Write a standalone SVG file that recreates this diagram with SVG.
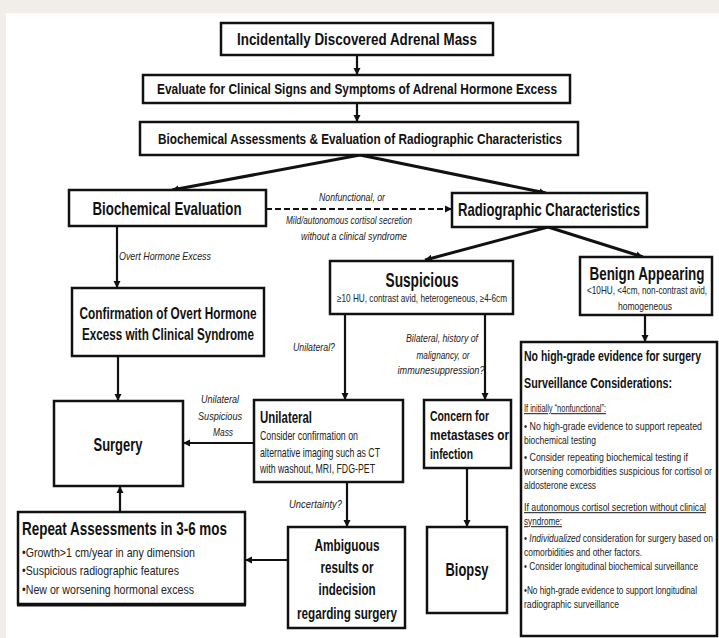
<svg xmlns="http://www.w3.org/2000/svg" width="719" height="638" viewBox="0 0 719 638">
<style>
.box{fill:#fff;stroke:#111;stroke-width:2.5}
.b{font-family:"Liberation Sans",Arial,sans-serif;font-weight:bold;fill:#111}
.r{font-family:"Liberation Sans",Arial,sans-serif;fill:#222}
.i{font-family:"Liberation Sans",Arial,sans-serif;font-style:italic;fill:#222}
.c{text-anchor:middle}
.ln{stroke:#111;stroke-width:2.2;fill:none;marker-end:url(#ah)}
.thick{stroke-width:3}
.dash{stroke-dasharray:6 3}
.u{text-decoration:underline}
</style>
<defs>
<marker id="ah" markerUnits="userSpaceOnUse" markerWidth="8" markerHeight="8" refX="7" refY="4" orient="auto">
<path d="M0,0.5 L7,4 L0,7.5 z" fill="#111"/>
</marker>
</defs>
<rect x="0" y="0" width="719" height="638" fill="#f1ede9"/>
<rect x="6" y="13" width="713" height="625" fill="#fff"/>

<g id="connectors">
<path class="ln" d="M357,55 V75"/>
<path class="ln" d="M357,103 V122"/>
<path class="ln thick" d="M360,155 L172,190"/>
<path class="ln thick" d="M360,155 L546,193"/>
<path class="ln dash" d="M266,209 H452"/>
<path class="ln" d="M117,226 V288"/>
<path class="ln" d="M118,356 V401"/>
<path class="ln thick" d="M548,227 L425,260"/>
<path class="ln thick" d="M548,227 L643,257"/>
<path class="ln" d="M345,314 V400"/>
<path class="ln" d="M485,314 V400"/>
<path class="ln" d="M645,315 V342"/>
<path class="ln" d="M254,443 H183"/>
<path class="ln" d="M347,482 V527"/>
<path class="ln" d="M467,468 V527"/>
<path class="ln" d="M288,560 H245"/>
<path class="ln" d="M120,512 V486"/>
<text class="i c" transform="translate(352,201) scale(0.72,1)" font-size="10" textLength="91.7" lengthAdjust="spacingAndGlyphs">Nonfunctional, or</text>
<text class="i c" transform="translate(349,224) scale(0.72,1)" font-size="10" textLength="175" lengthAdjust="spacingAndGlyphs">Mild/autonomous cortisol secretion</text>
<text class="i c" transform="translate(354,240) scale(0.72,1)" font-size="10" textLength="147.2" lengthAdjust="spacingAndGlyphs">without  a clinical syndrome</text>
<text class="i" transform="translate(119,260) scale(0.72,1)" font-size="10" textLength="127.8" lengthAdjust="spacingAndGlyphs">Overt Hormone Excess</text>
<text class="i" transform="translate(293,351) scale(0.72,1)" font-size="10" textLength="58.3" lengthAdjust="spacingAndGlyphs">Unilateral?</text>
<text class="i c" transform="translate(442,342) scale(0.72,1)" font-size="10.5" textLength="100" lengthAdjust="spacingAndGlyphs">Bilateral, history of</text>
<text class="i c" transform="translate(443,359) scale(0.72,1)" font-size="10.5" textLength="73.6" lengthAdjust="spacingAndGlyphs">malignancy, or</text>
<text class="i c" transform="translate(441,374) scale(0.72,1)" font-size="10.5" textLength="120.8" lengthAdjust="spacingAndGlyphs">immunesuppression?</text>
<text class="i c" transform="translate(220,403) scale(0.72,1)" font-size="10" textLength="52.8" lengthAdjust="spacingAndGlyphs">Unilateral</text>
<text class="i c" transform="translate(220,420) scale(0.72,1)" font-size="10" textLength="61.1" lengthAdjust="spacingAndGlyphs">Suspicious</text>
<text class="i c" transform="translate(223,436) scale(0.72,1)" font-size="10" textLength="27.8" lengthAdjust="spacingAndGlyphs">Mass</text>
<text class="i" transform="translate(289,508) scale(0.72,1)" font-size="10" textLength="73.6" lengthAdjust="spacingAndGlyphs">Uncertainty?</text>
</g>

<g id="n-incidental">
<rect class="box" x="221" y="23" width="272" height="32"/>
<text class="b c" transform="translate(357,45) scale(0.72,1)" font-size="16" textLength="333.3" lengthAdjust="spacingAndGlyphs">Incidentally Discovered Adrenal Mass</text>
</g>
<g id="n-evaluate">
<rect class="box" x="143" y="75" width="427" height="28"/>
<text class="b c" transform="translate(357,94) scale(0.72,1)" font-size="14" textLength="555.6" lengthAdjust="spacingAndGlyphs">Evaluate for Clinical  Signs and Symptoms of Adrenal Hormone Excess</text>
</g>
<g id="n-assess">
<rect class="box" x="140" y="122" width="438" height="33"/>
<text class="b c" transform="translate(360,144) scale(0.72,1)" font-size="14" textLength="561.1" lengthAdjust="spacingAndGlyphs">Biochemical Assessments &amp; Evaluation of Radiographic Characteristics</text>
</g>
<g id="n-biochem">
<rect class="box" x="69" y="190" width="197" height="36"/>
<text class="b c" transform="translate(167,215) scale(0.72,1)" font-size="18" textLength="206.9" lengthAdjust="spacingAndGlyphs">Biochemical Evaluation</text>
</g>
<g id="n-radio">
<rect class="box" x="452" y="193" width="195" height="34"/>
<text class="b c" transform="translate(549,216) scale(0.72,1)" font-size="18" textLength="252.8" lengthAdjust="spacingAndGlyphs">Radiographic Characteristics</text>
</g>
<g id="n-confirm">
<rect class="box" x="72" y="288" width="192" height="68"/>
<text class="b c" transform="translate(168,319) scale(0.72,1)" font-size="16" textLength="245.8" lengthAdjust="spacingAndGlyphs">Confirmation  of Overt Hormone</text>
<text class="b c" transform="translate(168,340) scale(0.72,1)" font-size="16" textLength="238.9" lengthAdjust="spacingAndGlyphs">Excess with  Clinical  Syndrome</text>
</g>
<g id="n-suspicious">
<rect class="box" x="330" y="261" width="183" height="53"/>
<text class="b c" transform="translate(422,287) scale(0.72,1)" font-size="21" textLength="101.4" lengthAdjust="spacingAndGlyphs">Suspicious</text>
<text class="r c" transform="translate(422,302) scale(0.72,1)" font-size="10.5" textLength="236.1" lengthAdjust="spacingAndGlyphs">≥10 HU,  contrast avid,  heterogeneous,  ≥4-6cm</text>
</g>
<g id="n-benign">
<rect class="box" x="580" y="257" width="132" height="58"/>
<text class="b c" transform="translate(647,280) scale(0.72,1)" font-size="19" textLength="159.7" lengthAdjust="spacingAndGlyphs">Benign Appearing</text>
<text class="r c" transform="translate(647,294) scale(0.72,1)" font-size="10.5" textLength="166.7" lengthAdjust="spacingAndGlyphs">&lt;10HU,  &lt;4cm, non-contrast avid,</text>
<text class="r c" transform="translate(645,310) scale(0.72,1)" font-size="10.5" textLength="75" lengthAdjust="spacingAndGlyphs">homogeneous</text>
</g>
<g id="n-nohigh">
<rect class="box" x="521" y="342" width="196" height="294"/>
<text class="b" transform="translate(524,361) scale(0.72,1)" font-size="15" textLength="245.8" lengthAdjust="spacingAndGlyphs">No high-grade evidence for surgery</text>
<text class="b" transform="translate(524,388) scale(0.72,1)" font-size="15" textLength="205.6" lengthAdjust="spacingAndGlyphs">Surveillance Considerations:</text>
<text class="r u" transform="translate(524,412) scale(0.72,1)" font-size="10.5" textLength="113.9" lengthAdjust="spacingAndGlyphs">If initially “nonfunctional”:</text>
<text class="r" transform="translate(524,430) scale(0.72,1)" font-size="10.5" textLength="247.2" lengthAdjust="spacingAndGlyphs">• No high-grade evidence to support repeated</text>
<text class="r" transform="translate(524,444) scale(0.72,1)" font-size="10.5" textLength="100" lengthAdjust="spacingAndGlyphs">biochemical testing</text>
<text class="r" transform="translate(524,461) scale(0.72,1)" font-size="10.5" textLength="227.8" lengthAdjust="spacingAndGlyphs">• Consider repeating biochemical testing if</text>
<text class="r" transform="translate(524,475) scale(0.72,1)" font-size="10.5" textLength="261.1" lengthAdjust="spacingAndGlyphs">worsening comorbidities suspicious for cortisol or</text>
<text class="r" transform="translate(524,489) scale(0.72,1)" font-size="10.5" textLength="100" lengthAdjust="spacingAndGlyphs">aldosterone excess</text>
<text class="r u" transform="translate(524,511) scale(0.72,1)" font-size="10.5" textLength="252.8" lengthAdjust="spacingAndGlyphs">If autonomous cortisol secretion without clinical</text>
<text class="r u" transform="translate(524,525) scale(0.72,1)" font-size="10.5" textLength="52.8" lengthAdjust="spacingAndGlyphs">syndrome:</text>
<text class="r" transform="translate(524,542) scale(0.72,1)" font-size="10.5" textLength="262.5" lengthAdjust="spacingAndGlyphs">• <tspan font-style="italic">Individualized</tspan> consideration for surgery based on</text>
<text class="r" transform="translate(524,556) scale(0.72,1)" font-size="10.5" textLength="163.9" lengthAdjust="spacingAndGlyphs">comorbidities and other factors.</text>
<text class="r" transform="translate(524,570) scale(0.72,1)" font-size="10.5" textLength="241.7" lengthAdjust="spacingAndGlyphs">• Consider longitudinal  biochemical surveillance</text>
<text class="r" transform="translate(524,594) scale(0.72,1)" font-size="10.5" textLength="240.3" lengthAdjust="spacingAndGlyphs">•No high-grade evidence to support longitudinal</text>
<text class="r" transform="translate(524,608) scale(0.72,1)" font-size="10.5" textLength="131.9" lengthAdjust="spacingAndGlyphs">radiographic surveillance</text>
</g>
<g id="n-surgery">
<rect class="box" x="54" y="401" width="129" height="85"/>
<text class="b c" transform="translate(118,451) scale(0.72,1)" font-size="18" textLength="68.1" lengthAdjust="spacingAndGlyphs">Surgery</text>
</g>
<g id="n-unilateral">
<rect class="box" x="254" y="400" width="149" height="82"/>
<text class="b" transform="translate(260,423) scale(0.72,1)" font-size="17" textLength="72.2" lengthAdjust="spacingAndGlyphs">Unilateral</text>
<text class="r" transform="translate(260,440) scale(0.72,1)" font-size="12" textLength="136.1" lengthAdjust="spacingAndGlyphs">Consider confirmation on</text>
<text class="r" transform="translate(260,457) scale(0.72,1)" font-size="12" textLength="166.7" lengthAdjust="spacingAndGlyphs">alternative  imaging such as CT</text>
<text class="r" transform="translate(260,473) scale(0.72,1)" font-size="12" textLength="159.7" lengthAdjust="spacingAndGlyphs">with washout, MRI, FDG-PET</text>
</g>
<g id="n-concern">
<rect class="box" x="424" y="400" width="87" height="68"/>
<text class="b" transform="translate(430,421) scale(0.72,1)" font-size="15" textLength="81.9" lengthAdjust="spacingAndGlyphs">Concern for</text>
<text class="b" transform="translate(430,440) scale(0.72,1)" font-size="15" textLength="109.7" lengthAdjust="spacingAndGlyphs">metastases or</text>
<text class="b" transform="translate(430,459) scale(0.72,1)" font-size="15" textLength="59.7" lengthAdjust="spacingAndGlyphs">infection</text>
</g>
<g id="n-repeat">
<rect class="box" x="18" y="512" width="227" height="92"/>
<line x1="17" y1="605" x2="246" y2="605" stroke="#111" stroke-width="3"/>
<text class="b" transform="translate(22,535) scale(0.72,1)" font-size="18" textLength="284.7" lengthAdjust="spacingAndGlyphs">Repeat Assessments  in 3-6 mos</text>
<text class="r" transform="translate(22,557) scale(0.72,1)" font-size="13" textLength="240.3" lengthAdjust="spacingAndGlyphs">•Growth&gt;1 cm/year in any dimension</text>
<text class="r" transform="translate(22,575) scale(0.72,1)" font-size="13" textLength="218.1" lengthAdjust="spacingAndGlyphs">•Suspicious radiographic features</text>
<text class="r" transform="translate(22,594) scale(0.72,1)" font-size="13" textLength="238.9" lengthAdjust="spacingAndGlyphs">•New or worsening hormonal excess</text>
</g>
<g id="n-ambiguous">
<rect class="box" x="288" y="527" width="117" height="101"/>
<text class="b c" transform="translate(347,551) scale(0.72,1)" font-size="17" textLength="90.3" lengthAdjust="spacingAndGlyphs">Ambiguous</text>
<text class="b c" transform="translate(347,573) scale(0.72,1)" font-size="17" textLength="73.6" lengthAdjust="spacingAndGlyphs">results or</text>
<text class="b c" transform="translate(347,595) scale(0.72,1)" font-size="17" textLength="79.2" lengthAdjust="spacingAndGlyphs">indecision</text>
<text class="b c" transform="translate(347,619) scale(0.72,1)" font-size="17" textLength="138.9" lengthAdjust="spacingAndGlyphs">regarding surgery</text>
</g>
<g id="n-biopsy">
<rect class="box" x="427" y="527" width="80" height="86"/>
<text class="b c" transform="translate(467,576) scale(0.72,1)" font-size="18" textLength="59.7" lengthAdjust="spacingAndGlyphs">Biopsy</text>
</g>
</svg>
